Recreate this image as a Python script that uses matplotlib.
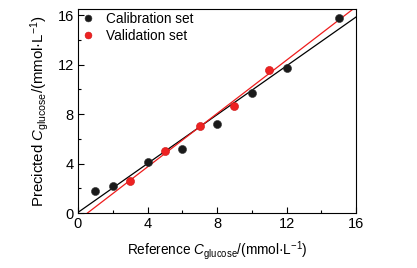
import numpy as np
import matplotlib
matplotlib.use("Agg")
import matplotlib.pyplot as plt

plt.rcParams['font.family'] = ['Liberation Sans', 'DejaVu Sans']
plt.rcParams['mathtext.fontset'] = 'custom'
plt.rcParams['mathtext.rm'] = 'Liberation Sans'
plt.rcParams['mathtext.it'] = 'Liberation Sans:italic'

cal_x = [1, 2, 4, 6, 8, 10, 12, 15]
cal_y = [1.8, 2.2, 4.12, 5.2, 7.17, 9.67, 11.7, 15.8]
val_x = [3, 5, 7, 9, 11]
val_y = [2.6, 5.0, 7.0, 8.67, 11.55]

xticks = [0, 4, 8, 12, 16]
yticks = [0, 4, 8, 12, 16]

fig = plt.figure(figsize=(4.17, 2.68), dpi=100)
ax = fig.add_axes([0.187, 0.205, 0.667, 0.762])

xx = np.array([0, 16])
kc = np.polyfit(cal_x, cal_y, 1)
kv = np.polyfit(val_x, val_y, 1)
ax.plot(xx, np.polyval(kc, xx), color='black', lw=0.9)
ax.plot(xx, np.polyval(kv, xx), color='#ee1c1c', lw=0.9)

ax.plot(cal_x, cal_y, 'o', color='#1a1a1a', ms=5.8, mec='#333333', mew=0.4,
        label='Calibration set', zorder=3)
ax.plot(val_x, val_y, 'o', color='#ee2222', ms=5.8, mec='#cc1111', mew=0.4,
        label='Validation set', zorder=3)

ax.set_xlim(0, 16)
ax.set_ylim(0, 16.5)
ax.set_xticks(xticks)
ax.set_yticks(yticks)
ax.set_xticks([2, 6, 10, 14], minor=True)
ax.set_yticks([2, 6, 10, 14], minor=True)
ax.tick_params(which='major', direction='in', length=4, width=0.8, labelsize=10.5, pad=3)
ax.tick_params(which='minor', direction='in', length=2, width=0.8)
for s in ax.spines.values():
    s.set_linewidth(0.8)

ax.set_xlabel(r'Reference $\mathit{C}_{\mathrm{glucose}}$/(mmol·L$^{-1}$)', fontsize=9.8, labelpad=6)
ax.set_ylabel(r'Precicted $\mathit{C}_{\mathrm{glucose}}$/(mmol·L$^{-1}$)', fontsize=10.8, labelpad=5)

ax.legend(loc='upper left', frameon=False, fontsize=9.8,
          handlelength=1.0, handletextpad=0.8, borderaxespad=0.1, labelspacing=0.2,
          borderpad=0.15, markerscale=0.85)

fig.savefig('out.png', dpi=100)
